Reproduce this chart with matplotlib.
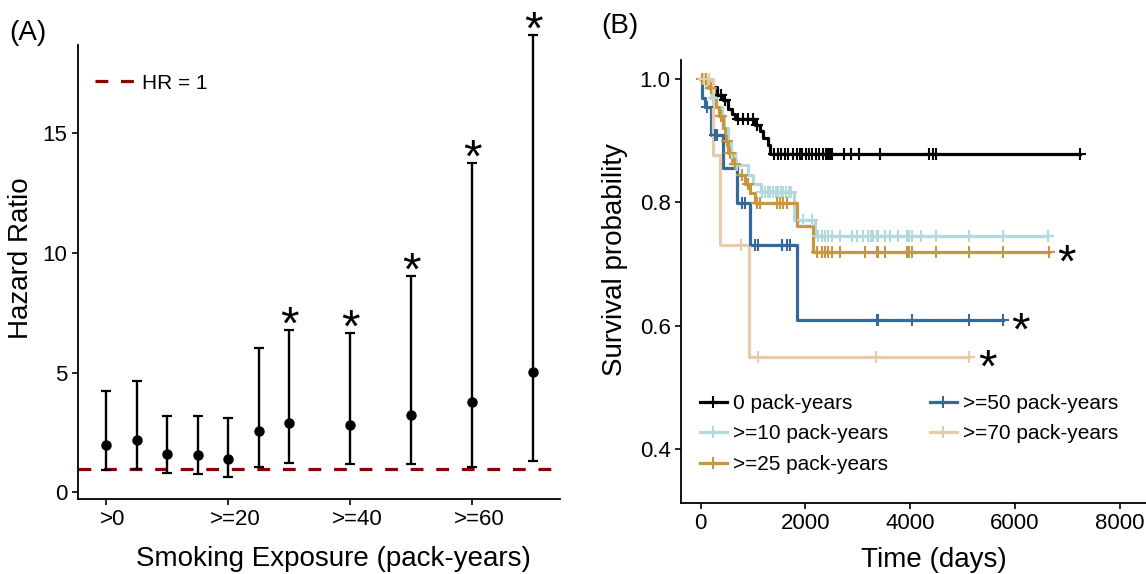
import numpy as np
import matplotlib
matplotlib.use('Agg')
import matplotlib.pyplot as plt
import matplotlib.transforms as mtransforms
from matplotlib.lines import Line2D

plt.rcParams['font.family'] = ['Liberation Sans', 'DejaVu Sans']

# ---- Panel A: hazard ratios by smoking exposure ----
exposure = [0, 5, 10, 15, 20, 25, 30, 40, 50, 60, 70]
hr = [2.0, 2.19, 1.6, 1.55, 1.41, 2.56, 2.91, 2.81, 3.24, 3.77, 5.03]
hr_lo = [0.94, 1.0, 0.8, 0.76, 0.66, 1.08, 1.24, 1.19, 1.17, 1.05, 1.33]
hr_hi = [4.23, 4.65, 3.19, 3.2, 3.09, 6.02, 6.77, 6.63, 9.02, 13.73, 19.06]
signif = [False, False, False, False, False, False, True, True, True, True, True]
xtick_pos = [0, 20, 40, 60]
xtick_lab = ['>0', '>=20', '>=40', '>=60']

# ---- Panel B: Kaplan-Meier curves ----
groups = ['0 pack-years', '>=10 pack-years', '>=25 pack-years',
          '>=50 pack-years', '>=70 pack-years']
colors = ['#000000', '#B3DADA', '#C8963E', '#36699B', '#E8CBA9']

t0 = [0, 150, 305, 432, 527, 591, 655, 1036, 1132, 1195, 1291, 1322]
s0 = [1.0, 0.987, 0.974, 0.966, 0.952, 0.944, 0.936, 0.925, 0.915, 0.904, 0.893, 0.879]
c0 = [380, 460, 718, 813, 908, 1004, 1068, 1403, 1470, 1536, 1603, 1669, 1769,
      1835, 1902, 1935, 2002, 2068, 2135, 2201, 2268, 2334, 2401, 2434, 2467,
      2501, 2733, 2866, 3032, 3431, 4362, 4429, 4495, 7235]

t10 = [0, 100, 200, 300, 400, 450, 520, 580, 650, 900, 1000, 1150, 1790, 2180]
s10 = [1.0, 0.985, 0.97, 0.955, 0.94, 0.92, 0.90, 0.88, 0.86, 0.845, 0.83, 0.817, 0.771, 0.745]
c10 = [40, 250, 600, 700, 1180, 1230, 1280, 1330, 1380, 1430, 1480, 1530, 1580,
       1630, 1680, 1730, 1958, 2118, 2245, 2309, 2372, 2435, 2500, 2658, 2882,
       2977, 3103, 3199, 3245, 3294, 3359, 3390, 3517, 3613, 3771, 3931, 3981,
       4027, 4199, 4490, 5126, 5763, 6633]

t25 = [0, 150, 250, 300, 350, 420, 470, 530, 600, 700, 850, 950, 1040, 1832, 2143]
s25 = [1.0, 0.985, 0.97, 0.955, 0.94, 0.92, 0.90, 0.88, 0.862, 0.845, 0.83, 0.815, 0.799, 0.762, 0.72]
c25 = [20, 60, 100, 200, 380, 500, 560, 650, 780, 900, 1068, 1132, 1450, 1513,
       1577, 1641, 2213, 2309, 2372, 2435, 2500, 2658, 3135, 3359, 3390, 3517,
       3931, 3981, 4027, 4490, 5126, 5763, 6647]

t50 = [0, 30, 80, 200, 420, 690, 942, 1832]
s50 = [1.0, 0.97, 0.955, 0.91, 0.856, 0.799, 0.731, 0.609]
c50 = [130, 272, 320, 782, 845, 1036, 1100, 1546, 1641, 1704, 3359, 3378, 4027,
       5126, 5763]

t70 = [0, 240, 370, 928]
s70 = [1.0, 0.877, 0.731, 0.549]
c70 = [60, 150, 770, 1100, 3346, 5126]

km_times = [t0, t10, t25, t50, t70]
km_surv = [s0, s10, s25, s50, s70]
km_cens = [c0, c10, c25, c50, c70]
km_signif = [False, False, True, True, True]

fig = plt.figure(figsize=(11.46, 5.74), dpi=100)
axA = fig.add_axes([0.068, 0.1307, 0.4207, 0.7909])
axB = fig.add_axes([0.5942, 0.1237, 0.4058, 0.7718])

for ax in (axA, axB):
    for side in ('top', 'right'):
        ax.spines[side].set_visible(False)
    for side in ('left', 'bottom'):
        ax.spines[side].set_linewidth(1.3)
    ax.tick_params(labelsize=16, width=1.2, length=4, colors='black')

# Panel A
hr_a = np.array(hr)
yerr = [hr_a - np.array(hr_lo), np.array(hr_hi) - hr_a]
axA.axhline(1, color='#8B0000', lw=2.3, ls=(0, (4, 4)), label='HR = 1', zorder=1)
eb = axA.errorbar(exposure, hr, yerr=yerr, fmt='o', color='black', ms=6.5,
                  capsize=3.5, elinewidth=1.7, capthick=1.6, zorder=3)
for art in list(eb.lines[1]) + list(eb.lines[2]):
    art.set_clip_on(False)
eb.lines[0].set_clip_on(False)
for xi, hi, s in zip(exposure, hr_hi, signif):
    if s:
        axA.annotate('*', xy=(xi, hi), xytext=(0, -6), textcoords='offset points',
                     ha='center', va='baseline', fontsize=34, annotation_clip=False)
axA.set_xlim(-4.6, 74.4)
axA.set_ylim(-0.27, 18.65)
axA.set_yticks([0, 5, 10, 15])
axA.set_xticks(xtick_pos)
axA.set_xticklabels(xtick_lab)
shift = mtransforms.ScaledTranslation(7 / 100, 0, fig.dpi_scale_trans)
for lab in axA.get_xticklabels():
    lab.set_transform(lab.get_transform() + shift)
axA.set_ylabel('Hazard Ratio', fontsize=20, va='center')
axA.yaxis.set_label_coords(-0.118, 0.531)
axA.set_xlabel('Smoking Exposure (pack-years)', fontsize=20, va='top')
axA.xaxis.set_label_coords(0.529, -0.103)
axA.legend(loc='center left', bbox_to_anchor=(0.035, 0.916), frameon=False,
           fontsize=15, handlelength=1.9, handletextpad=0.35, borderpad=0,
           borderaxespad=0)

# Panel B
handles = []
for name, col, tt, ss, cc, sg in zip(groups, colors, km_times, km_surv, km_cens, km_signif):
    end = cc[-1]
    xs = list(tt) + [end]
    ys = list(ss) + [ss[-1]]
    axB.step(xs, ys, where='post', color=col, lw=2.3, zorder=2)
    idx = np.searchsorted(tt, cc, side='right') - 1
    cy = np.array(ss)[idx]
    axB.plot(cc, cy, ls='none', marker='+', ms=8, mew=1.5, color=col, zorder=3)
    if sg:
        axB.annotate('*', xy=(end, ss[-1]), xytext=(13, -18), textcoords='offset points',
                     ha='center', va='baseline', fontsize=34, annotation_clip=False)
    handles.append(Line2D([], [], color=col, lw=2.3, marker='+', ms=8, mew=1.5))

axB.set_xlim(-376, 8502)
axB.set_ylim(0.312, 1.031)
axB.set_xticks([0, 2000, 4000, 6000, 8000])
axB.set_yticks([0.4, 0.6, 0.8, 1.0])
axB.set_yticklabels(['0.4', '0.6', '0.8', '1.0'])
axB.set_ylabel('Survival probability', fontsize=20, va='center')
axB.yaxis.set_label_coords(-0.142, 0.5485)
axB.set_xlabel('Time (days)', fontsize=20, va='top')
axB.xaxis.set_label_coords(0.544, -0.1)
axB.legend(handles, groups, ncol=2, loc='center left', bbox_to_anchor=(0.04, 0.156),
           frameon=False, fontsize=15, handlelength=1.3, handletextpad=0.3,
           columnspacing=2.0, labelspacing=0.55, borderpad=0, borderaxespad=0)

fig.text(28 / 1146, 1 - 33 / 574, '(A)', fontsize=20, ha='center', va='center')
fig.text(620 / 1146, 1 - 26 / 574, '(B)', fontsize=20, ha='center', va='center')

fig.savefig('out.png', dpi=100)
